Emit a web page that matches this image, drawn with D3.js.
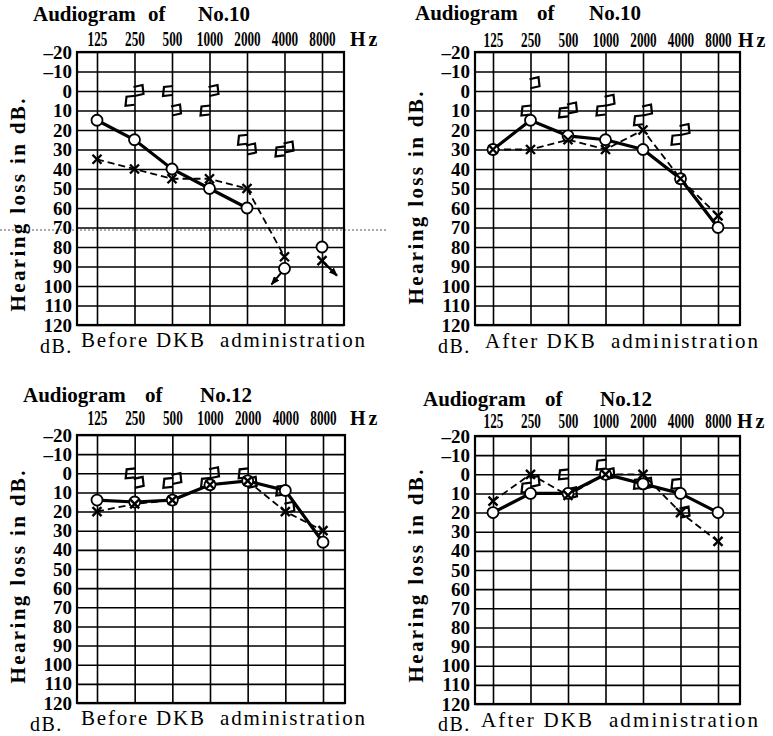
<!DOCTYPE html>
<html>
<head>
<meta charset="utf-8">
<script src="https://cdn.jsdelivr.net/npm/d3@7"></script>
<style>
  body { margin: 0; background: #fff; }
  svg text { font-family: "Liberation Serif", "DejaVu Serif", serif; fill: #000; }
</style>
</head>
<body>
<div id="chart"></div>
<script>
var svgWidth = 773;
var svgHeight = 736;

// frequencies (Hz) and hearing level ticks (dB)
var freqs = [125, 250, 500, 1000, 2000, 4000, 8000];
var freqLabels = ["125", "250", "500", "1000", "2000", "4000", "8000"];
var dbTicks = [-20, -10, 0, 10, 20, 30, 40, 50, 60, 70, 80, 90, 100, 110, 120];

// No.10 before: O = right air, X = left air, brackets = bone conduction
var no10BeforeRight = [15, 25, 40, 50, 60, 91, 80];
var no10BeforeLeft = [35, 40, 45, 45, 50, 85, 87];
var no10BeforeRightBone = [null, 5, 0, 10, 25, 31, null];
var no10BeforeLeftBone = [null, 0, 10, 0, 30, 29, null];

// No.10 after
var no10AfterRight = [30, 15, 23, 25, 30, 45, 70];
var no10AfterLeft = [30, 30, 25, 30, 20, 45, 64];
var no10AfterRightBone = [null, 10, 11, 10, 15, 25, null];
var no10AfterLeftBone = [null, -4, 9, 5, 10, 20, null];

// No.12 before
var no12BeforeRight = [14, 15, 14, 6, 4, 9, 36];
var no12BeforeLeft = [20, 16, 14, 6, 4, 20, 30];
var no12BeforeRightBone = [null, 0, 5, 5, 0, 9, null];
var no12BeforeLeftBone = [null, 5, 3, 0, 5, 18, null];

// No.12 after
var no12AfterRight = [20, 10, 10, 0, 5, 10, 20];
var no12AfterLeft = [14, 0, 11, 0, 0, 20, 35];
var no12AfterRightBone = [null, 7, 0, -5, 5, 5, null];
var no12AfterLeftBone = [null, 4, 10, 0, 5, 20, null];

var panels = [
  { no: "No.10", caption: "Before DKB administration",
    right: no10BeforeRight, left: no10BeforeLeft,
    rightBone: no10BeforeRightBone, leftBone: no10BeforeLeftBone,
    rightLineTo: 2000, leftLineTo: 4000, rightNR: [4000], leftNR: [8000],
    lay: { left: 77, right: 344, top: 52, bottom: 325, x125: 97, x8000: 322,
           freqPad: 6, titleY: 21, tx: [33, 148, 198], hzX: 350,
           vX: 25, vY: 205, capDbX: 40, capDbY: 353, capX: 81, capY: 347, capW: 284 } },
  { no: "No.10", caption: "After DKB administration",
    right: no10AfterRight, left: no10AfterLeft,
    rightBone: no10AfterRightBone, leftBone: no10AfterLeftBone,
    rightLineTo: 8000, leftLineTo: 8000, rightNR: [], leftNR: [],
    lay: { left: 475, right: 740, top: 52, bottom: 325, x125: 493, x8000: 718,
           freqPad: 5, titleY: 20, tx: [415, 537, 589], hzX: 738,
           vX: 423, vY: 198, capDbX: 438, capDbY: 353, capX: 485, capY: 348, capW: 273 } },
  { no: "No.12", caption: "Before DKB administration",
    right: no12BeforeRight, left: no12BeforeLeft,
    rightBone: no12BeforeRightBone, leftBone: no12BeforeLeftBone,
    rightLineTo: 8000, leftLineTo: 8000, rightNR: [], leftNR: [],
    lay: { left: 77, right: 345, top: 435, bottom: 703, x125: 97, x8000: 323,
           freqPad: 10, titleY: 402, tx: [23, 145, 200], hzX: 350,
           vX: 25, vY: 577, capDbX: 30, capDbY: 731, capX: 81, capY: 725, capW: 284 } },
  { no: "No.12", caption: "After DKB administration",
    right: no12AfterRight, left: no12AfterLeft,
    rightBone: no12AfterRightBone, leftBone: no12AfterLeftBone,
    rightLineTo: 8000, leftLineTo: 8000, rightNR: [], leftNR: [],
    lay: { left: 475, right: 740, top: 436, bottom: 704, x125: 493, x8000: 718,
           freqPad: 8, titleY: 406, tx: [423, 545, 600], hzX: 737,
           vX: 423, vY: 576, capDbX: 438, capDbY: 731, capX: 481, capY: 727, capW: 277 } }
];

var svg = d3.select("#chart")
  .append("svg")
  .attr("width", svgWidth)
  .attr("height", svgHeight)
  .style("background", "#fff");

svg.append("defs").append("marker")
  .attr("id", "arrow")
  .attr("markerUnits", "userSpaceOnUse")
  .attr("markerWidth", 9).attr("markerHeight", 7)
  .attr("refX", 8).attr("refY", 3.5)
  .attr("orient", "auto")
  .append("path")
  .attr("d", "M0,0 L9,3.5 L0,7 z")
  .attr("fill", "#000");

// scan line across the top-left sheet
svg.append("line")
  .attr("x1", 0).attr("x2", 386).attr("y1", 230).attr("y2", 230)
  .attr("stroke", "#555").attr("stroke-width", 1).attr("stroke-dasharray", "2,2");

function drawPanel(p) {
  var lay = p.lay;
  var g = svg.append("g");

  var x = d3.scaleLog().base(2).domain([125, 8000]).range([lay.x125, lay.x8000]);
  var y = d3.scaleLinear().domain([-20, 120]).range([lay.top, lay.bottom]);

  // dB grid + labels
  var yAxis = d3.axisLeft(y)
    .tickValues(dbTicks)
    .tickSize(-(lay.right - lay.left))
    .tickSizeOuter(0)
    .tickPadding(5)
    .tickFormat(d => d < 0 ? "\u2013" + (-d) : d);

  var yg = g.append("g")
    .attr("transform", `translate(${lay.left},0)`)
    .call(yAxis);
  yg.select(".domain").remove();
  yg.selectAll("line").attr("stroke", "#000").attr("stroke-width", 1.6);
  yg.selectAll("text")
    .attr("font-weight", "bold")
    .attr("font-size", 19);

  // frequency grid + labels
  var xAxis = d3.axisTop(x)
    .tickValues(freqs)
    .tickSize(-(lay.bottom - lay.top))
    .tickSizeOuter(0)
    .tickPadding(lay.freqPad)
    .tickFormat((d, i) => freqLabels[i]);

  var xg = g.append("g")
    .attr("transform", `translate(0,${lay.top})`)
    .call(xAxis);
  xg.select(".domain").remove();
  xg.selectAll("line").attr("stroke", "#000").attr("stroke-width", 1.6);
  xg.selectAll("text")
    .attr("font-size", 22)
    .attr("font-weight", "bold")
    .attr("transform", "scale(0.6,1)");

  g.append("rect")
    .attr("x", lay.left).attr("y", lay.top)
    .attr("width", lay.right - lay.left).attr("height", lay.bottom - lay.top)
    .attr("fill", "none").attr("stroke", "#000").attr("stroke-width", 2.2);

  g.append("text")
    .attr("x", lay.hzX).attr("y", lay.top - lay.freqPad)
    .attr("font-weight", "bold")
    .attr("font-size", 20).attr("letter-spacing", 3)
    .text("Hz");

  // title
  ["Audiogram", "of", p.no].forEach(function(w, i) {
    g.append("text")
      .attr("x", lay.tx[i]).attr("y", lay.titleY)
      .attr("font-weight", "bold")
      .attr("font-size", 21)
      .text(w);
  });

  g.append("text")
    .attr("transform", `translate(${lay.vX},${lay.vY}) rotate(-90)`)
    .attr("text-anchor", "middle")
    .attr("font-weight", "bold")
    .attr("font-size", 21)
    .attr("textLength", 213).attr("lengthAdjust", "spacing")
    .text("Hearing loss in dB.");

  g.append("text")
    .attr("x", lay.capDbX).attr("y", lay.capDbY)
    .attr("font-size", 20).attr("letter-spacing", 1.5)
    .text("dB.");

  g.append("text")
    .attr("x", lay.capX).attr("y", lay.capY)
    .attr("font-size", 21)
    .attr("textLength", lay.capW).attr("lengthAdjust", "spacing")
    .text(p.caption.replace("DKB ", "DKB\u00a0 "));

  var rightPts = freqs.map((f, i) => ({ f: f, v: p.right[i] }));
  var leftPts = freqs.map((f, i) => ({ f: f, v: p.left[i] }));

  var leftLine = d3.line()
    .defined(d => d.v != null && d.f <= p.leftLineTo)
    .x(d => x(d.f)).y(d => y(d.v));
  var rightLine = d3.line()
    .defined(d => d.v != null && d.f <= p.rightLineTo)
    .x(d => x(d.f)).y(d => y(d.v));

  g.append("path")
    .attr("d", leftLine(leftPts))
    .attr("fill", "none").attr("stroke", "#000")
    .attr("stroke-width", 1.8).attr("stroke-dasharray", "7,4");

  g.append("path")
    .attr("d", rightLine(rightPts))
    .attr("fill", "none").attr("stroke", "#000")
    .attr("stroke-width", 3.2);

  // bone conduction brackets
  var boneR = "M1,-5 L-8,-4 L-9,5 L0,4";
  var boneL = "M-1,-4 L8,-6 L9,3 L0,5";
  freqs.forEach(function(f, i) {
    if (p.rightBone[i] != null) {
      g.append("path")
        .attr("transform", `translate(${x(f)},${y(p.rightBone[i])})`)
        .attr("d", boneR)
        .attr("fill", "none").attr("stroke", "#000").attr("stroke-width", 2.2);
    }
    if (p.leftBone[i] != null) {
      g.append("path")
        .attr("transform", `translate(${x(f)},${y(p.leftBone[i])})`)
        .attr("d", boneL)
        .attr("fill", "none").attr("stroke", "#000").attr("stroke-width", 2.2);
    }
  });

  // no-response arrows
  p.rightNR.forEach(function(f) {
    var v = p.right[freqs.indexOf(f)];
    g.append("line")
      .attr("x1", x(f) - 3).attr("y1", y(v) + 4)
      .attr("x2", x(f) - 13).attr("y2", y(v) + 16)
      .attr("stroke", "#000").attr("stroke-width", 2)
      .attr("marker-end", "url(#arrow)");
  });
  p.leftNR.forEach(function(f) {
    var v = p.left[freqs.indexOf(f)];
    g.append("line")
      .attr("x1", x(f) + 2).attr("y1", y(v) + 2)
      .attr("x2", x(f) + 15).attr("y2", y(v) + 15)
      .attr("stroke", "#000").attr("stroke-width", 2.2)
      .attr("marker-end", "url(#arrow)");
  });

  g.selectAll(".right-pt")
    .data(rightPts.filter(d => d.v != null))
    .join("circle")
    .attr("class", "right-pt")
    .attr("cx", d => x(d.f)).attr("cy", d => y(d.v))
    .attr("r", 5.5)
    .attr("fill", "#fff").attr("stroke", "#000").attr("stroke-width", 1.8);

  g.selectAll(".left-pt")
    .data(leftPts.filter(d => d.v != null))
    .join("path")
    .attr("class", "left-pt")
    .attr("transform", d => `translate(${x(d.f)},${y(d.v)})`)
    .attr("d", "M-4.5,-4.5 L4.5,4.5 M-4.5,4.5 L4.5,-4.5")
    .attr("fill", "none").attr("stroke", "#000").attr("stroke-width", 2.4);
}

panels.forEach(drawPanel);
</script>
</body>
</html>
